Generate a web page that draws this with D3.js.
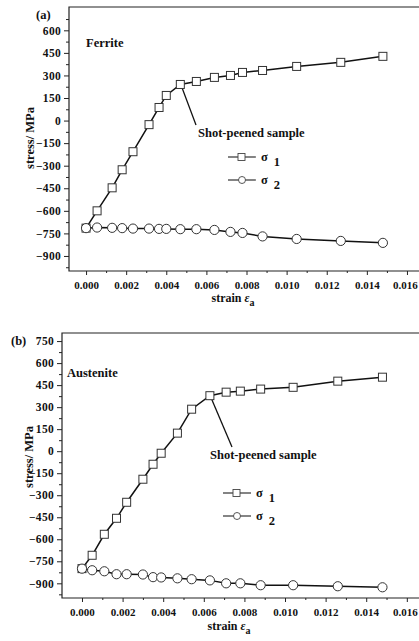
<!DOCTYPE html>
<html>
<head>
<meta charset="utf-8">
<script src="https://cdn.jsdelivr.net/npm/d3@7/dist/d3.min.js"></script>
<style>
  html, body { margin: 0; padding: 0; background: #fff; }
  svg text { font-family: "Liberation Serif", "Times New Roman", serif; font-weight: bold; fill: #111; }
</style>
</head>
<body>
<svg id="chart" width="419" height="641"></svg>
<script>
// panel (a) ferrite
const strainA = [0, 0.00055, 0.0013, 0.0018, 0.00234, 0.00314, 0.00364, 0.004, 0.0047, 0.0055, 0.0064, 0.0072, 0.0078, 0.0088, 0.0105, 0.0127, 0.0148];
const sigma1A = [-715, -600, -447, -327, -207, -27, 87, 167, 240, 260, 287, 300, 320, 333, 360, 387, 427];
const sigma2A = [-715, -711, -713, -715, -718, -718, -720, -720, -722, -722, -727, -740, -747, -770, -787, -800, -813];

// panel (b) austenite
const strainB = [0, 0.0005, 0.0011, 0.0017, 0.0022, 0.003, 0.0035, 0.0039, 0.0047, 0.0054, 0.0063, 0.0071, 0.0078, 0.0088, 0.0104, 0.0126, 0.0148];
const sigma1B = [-800, -709, -566, -457, -348, -191, -89, -14, 123, 286, 378, 402, 409, 423, 435, 477, 504];
const sigma2B = [-800, -811, -818, -838, -838, -840, -858, -860, -866, -872, -880, -900, -900, -913, -913, -920, -927];

const xTicks = [0, 0.002, 0.004, 0.006, 0.008, 0.010, 0.012, 0.014, 0.016];
const yTicksA = [-900, -750, -600, -450, -300, -150, 0, 150, 300, 450, 600];
const yTicksB = [-900, -750, -600, -450, -300, -150, 0, 150, 300, 450, 600, 750];

const svg = d3.select('#chart');

function drawPanel(cfg) {
    const x = d3.scaleLinear().domain(cfg.xDomain).range([cfg.left, 419]);
    const y = d3.scaleLinear().domain(cfg.yDomain).range([cfg.bottom, cfg.top]);
    const g = svg.append('g');

    // frame (left, top, bottom; right side is cropped off)
    g.append('path')
        .attr('d', `M419,${cfg.top}H${cfg.left}V${cfg.bottom}H419`)
        .attr('fill', 'none')
        .attr('stroke', '#222')
        .attr('stroke-width', 1.2);

    // y axis
    const yAxis = d3.axisLeft(y).tickValues(cfg.yTicks).tickSize(5).tickPadding(3).tickFormat(d3.format('d'));
    const ya = g.append('g').attr('transform', `translate(${cfg.left},0)`).call(yAxis);
    const yMinor = cfg.yTicks.map(v => v + 75).filter(v => v < cfg.yDomain[1]);
    yMinor.push(cfg.yTicks[0] - 75);
    g.append('g').attr('transform', `translate(${cfg.left},0)`)
        .call(d3.axisLeft(y).tickValues(yMinor).tickSize(3).tickFormat(''));

    // x axis
    const xAxis = d3.axisBottom(x).tickValues(xTicks).tickSize(4).tickPadding(6).tickFormat(d3.format('.3f'));
    const xa = g.append('g').attr('transform', `translate(0,${cfg.bottom})`).call(xAxis);
    const xMinor = xTicks.map(v => v + 0.001).filter(v => v < cfg.xDomain[1]);
    g.append('g').attr('transform', `translate(0,${cfg.bottom})`)
        .call(d3.axisBottom(x).tickValues(xMinor).tickSize(2).tickFormat(''));

    svg.selectAll('.domain').remove();
    g.selectAll('.tick line').attr('stroke', '#222').attr('stroke-width', 1);
    ya.selectAll('text').style('font-size', '11.5px').style('letter-spacing', '0.3px');
    xa.selectAll('text').style('font-size', '11px');
    xa.selectAll('text').filter(d => d === 0.016).attr('dx', -2);

    // axis titles
    g.append('text')
        .attr('transform', `translate(${cfg.yLabelX},${cfg.yLabelY}) rotate(-90)`)
        .attr('text-anchor', 'middle')
        .style('font-size', '12.5px')
        .text('stress/ MPa');
    const xl = g.append('text')
        .attr('x', cfg.xLabelX).attr('y', cfg.xLabelY)
        .attr('text-anchor', 'middle')
        .style('font-size', '12px');
    xl.append('tspan').text('strain ');
    xl.append('tspan').style('font-style', 'italic').text('ε');
    xl.append('tspan').attr('dy', 4).style('font-size', '10px').text('a');

    g.append('text').attr('x', cfg.tagX).attr('y', cfg.tagY).style('font-size', '12.5px').text(cfg.tag);
    g.append('text').attr('x', cfg.nameX).attr('y', cfg.nameY).style('font-size', '12.5px').text(cfg.name);

    // annotation
    const k = cfg.annotIdx;
    g.append('line')
        .attr('x1', x(cfg.strain[k]) + 2).attr('y1', y(cfg.s1[k]) + 4)
        .attr('x2', cfg.annotX2).attr('y2', cfg.annotY2)
        .attr('stroke', '#111').attr('stroke-width', 1.3);
    g.append('text').attr('x', cfg.annotTextX).attr('y', cfg.annotTextY)
        .style('font-size', '12.5px').text('Shot-peened sample');

    // series lines
    const line = d3.line().x(d => x(d[0])).y(d => y(d[1]));
    const pts1 = cfg.strain.map((s, i) => [s, cfg.s1[i]]);
    const pts2 = cfg.strain.map((s, i) => [s, cfg.s2[i]]);
    [pts1, pts2].forEach(p => {
        g.append('path').attr('d', line(p)).attr('fill', 'none')
            .attr('stroke', '#111').attr('stroke-width', 1.5);
    });

    g.selectAll('rect.s1').data(pts1).join('rect')
        .attr('x', d => x(d[0]) - 4).attr('y', d => y(d[1]) - 4)
        .attr('width', 8).attr('height', 8)
        .attr('fill', '#fff').attr('stroke', '#333').attr('stroke-width', 1);
    g.selectAll('circle.s2').data(pts2).join('circle')
        .attr('cx', d => x(d[0])).attr('cy', d => y(d[1])).attr('r', 4.6)
        .attr('fill', '#fff').attr('stroke', '#333').attr('stroke-width', 1);

    // legend
    const lx = cfg.legX, ly = cfg.legY;
    [0, 1].forEach(i => {
        const yy = ly + i * 23;
        g.append('line').attr('x1', lx).attr('x2', lx + 28).attr('y1', yy).attr('y2', yy)
            .attr('stroke', '#333').attr('stroke-width', 1.2);
        if (i === 0) {
            g.append('rect').attr('x', lx + 10).attr('y', yy - 3.5).attr('width', 7).attr('height', 7)
                .attr('fill', '#fff').attr('stroke', '#444').attr('stroke-width', 0.9);
        } else {
            g.append('circle').attr('cx', lx + 14).attr('cy', yy).attr('r', 3.5)
                .attr('fill', '#fff').attr('stroke', '#444').attr('stroke-width', 0.9);
        }
        const t = g.append('text').attr('x', lx + 33).attr('y', yy + 4).style('font-size', '12.5px');
        t.append('tspan').text('σ');
        t.append('tspan').attr('dx', 6).attr('dy', 5).text(String(i + 1));
    });
}

drawPanel({
    strain: strainA, s1: sigma1A, s2: sigma2A,
    xDomain: [-0.00085, 0.0166], yDomain: [-1000, 755], yTicks: yTicksA,
    left: 69, top: 7, bottom: 271,
    yLabelX: 34, yLabelY: 138, xLabelX: 233, xLabelY: 302,
    tag: '(a)', tagX: 36, tagY: 19,
    name: 'Ferrite', nameX: 86, nameY: 47,
    annotIdx: 8, annotX2: 196, annotY2: 125, annotTextX: 198, annotTextY: 137,
    legX: 228, legY: 157
});

drawPanel({
    strain: strainB, s1: sigma1B, s2: sigma2B,
    xDomain: [-0.000985, 0.0166], yDomain: [-1000, 805], yTicks: yTicksB,
    left: 62, top: 333, bottom: 598,
    yLabelX: 33, yLabelY: 457, xLabelX: 229, xLabelY: 630,
    tag: '(b)', tagX: 11, tagY: 345,
    name: 'Austenite', nameX: 67, nameY: 377,
    annotIdx: 10, annotX2: 232, annotY2: 447, annotTextX: 210, annotTextY: 459,
    legX: 223, legY: 493
});
</script>
</body>
</html>
